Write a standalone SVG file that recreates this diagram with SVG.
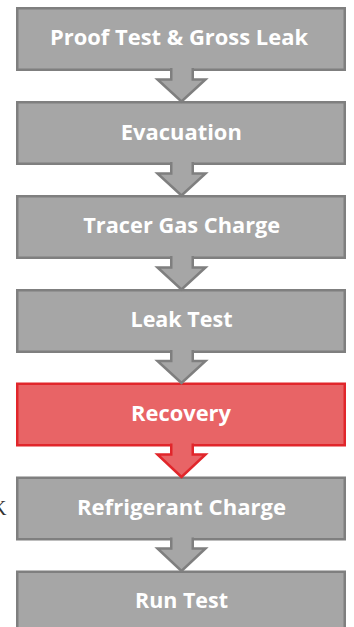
<svg xmlns="http://www.w3.org/2000/svg" width="354" height="627" viewBox="0 0 354 627">
<style>
.box{fill:#a6a6a6;stroke:#7f7f7f;stroke-width:2.5}
.arr{fill:#a6a6a6;stroke:#7f7f7f;stroke-width:2.5;stroke-linejoin:miter}
.red .box,.red.arr{fill:#e86466;stroke:#e1262b}
.lbl{font-family:"Open Sans","Noto Sans",sans-serif;font-weight:700;font-size:22px;fill:#ffffff;text-anchor:middle}
</style>
<rect width="354" height="627" fill="#ffffff"/>
<text x="-8" y="515" font-family="Liberation Serif, serif" font-size="20" fill="#333333">K</text>
<g id="n1"><rect class="box" x="17.25" y="8.25" width="327.5" height="61.5"/><text class="lbl" x="179" y="45" textLength="258" lengthAdjust="spacingAndGlyphs">Proof Test &amp; Gross Leak</text></g>
<g id="n2"><rect class="box" x="17.25" y="102.25" width="327.5" height="61.5"/><text class="lbl" x="181.3" y="140" textLength="121" lengthAdjust="spacingAndGlyphs">Evacuation</text></g>
<g id="n3"><rect class="box" x="17.25" y="196.25" width="327.5" height="61.5"/><text class="lbl" x="181.7" y="232.5" textLength="197" lengthAdjust="spacingAndGlyphs">Tracer Gas Charge</text></g>
<g id="n4"><rect class="box" x="17.25" y="290.25" width="327.5" height="61.5"/><text class="lbl" x="181.5" y="327" textLength="102" lengthAdjust="spacingAndGlyphs">Leak Test</text></g>
<g id="n5" class="red"><rect class="box" x="17.25" y="383.75" width="327.5" height="61.5"/><text class="lbl" x="181" y="421" textLength="100" lengthAdjust="spacingAndGlyphs">Recovery</text></g>
<g id="n6"><rect class="box" x="17.25" y="477.75" width="327.5" height="61.5"/><text class="lbl" x="181.5" y="515" textLength="209" lengthAdjust="spacingAndGlyphs">Refrigerant Charge</text></g>
<g id="n7"><rect class="box" x="17.25" y="571.75" width="327.5" height="61.5"/><text class="lbl" x="181.5" y="607.5" textLength="93" lengthAdjust="spacingAndGlyphs">Run Test</text></g>
<g id="connectors">
<path class="arr" d="M171.25,68 V79.5 H157.5 L181.5,101.5 L205.5,79.5 H192.75 V68"/>
<path class="arr" d="M171.25,162 V173.5 H157.5 L181.5,195.5 L205.5,173.5 H192.75 V162"/>
<path class="arr" d="M171.25,256 V267.5 H157.5 L181.5,289.5 L205.5,267.5 H192.75 V256"/>
<path class="arr" d="M171.25,350 V361 H157.5 L181.5,383 L205.5,361 H192.75 V350"/>
<path class="arr red" d="M171.25,443.5 V454.5 H157.5 L181.5,477 L205.5,454.5 H192.75 V443.5"/>
<path class="arr" d="M171.25,537.5 V548.5 H157.5 L181.5,571 L205.5,548.5 H192.75 V537.5"/>
</g>
</svg>
